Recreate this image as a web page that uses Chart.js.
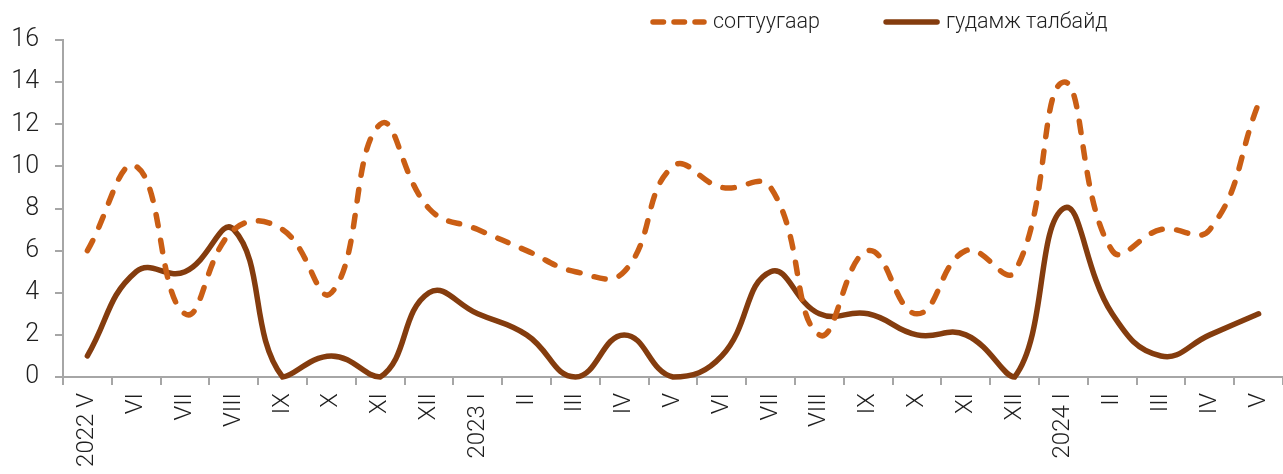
<!DOCTYPE html>
<html>
<head>
<meta charset="utf-8">
<script src="https://cdn.jsdelivr.net/npm/chart.js@4/dist/chart.umd.min.js"></script>
<style>
  html, body { margin: 0; padding: 0; background: #fff; }
  #wrap { width: 1283px; height: 474px; }
</style>
</head>
<body>
<div id="wrap"><canvas id="chart"></canvas></div>
<script>
const months = ['2022 V', 'VI', 'VII', 'VIII', 'IX', 'X', 'XI', 'XII', '2023 I', 'II', 'III', 'IV',
    'V', 'VI', 'VII', 'VIII', 'IX', 'X', 'XI', 'XII', '2024 I', 'II', 'III', 'IV', 'V']
const drunkData = [6, 10, 3, 7, 7, 4, 12, 8, 7, 6, 5, 5, 10, 9, 9, 2, 6, 3, 6, 5, 14, 6, 7, 7, 13]
const streetData = [1, 5, 5, 7, 0, 1, 0, 4, 3, 2, 0, 2, 0, 1, 5, 3, 3, 2, 2, 0, 8, 3, 1, 2, 3]
const yTicks = [0, 2, 4, 6, 8, 10, 12, 14, 16]

const orange = 'rgb(202, 94, 20)'
const brown = 'rgb(132, 60, 14)'
const axisGray = '#a6a6a6'
const textColor = '#1e1e1e'
const fontFamily = 'Roboto'

// legend drawn by hand so the dashed sample keeps its dashes
const dashLegend = {
    id: 'dashLegend',
    afterDraw(chart) {
        const c = chart.ctx
        const sampleW = 57, textGap = 6, itemGap = 63, y = 22
        c.save()
        c.font = '300 21.5px ' + fontFamily
        c.textBaseline = 'middle'
        let x = 650
        chart.data.datasets.forEach(ds => {
            c.strokeStyle = ds.borderColor
            c.lineWidth = ds.borderWidth
            c.lineCap = 'round'
            c.setLineDash(ds.borderDash ? [10.5, 10.5] : [])
            c.beginPath()
            c.moveTo(x + 3, y)
            c.lineTo(x + sampleW - 3, y)
            c.stroke()
            c.setLineDash([])
            c.fillStyle = textColor
            c.fillText(ds.label, x + sampleW + textGap, y + 1)
            x += sampleW + textGap + c.measureText(ds.label).width + itemGap
        })
        c.restore()
    }
}

window.onload = function () {
    let ctx = document.getElementById('chart')
    new Chart(ctx, {
        type: 'line',
        data: {
            labels: months,
            datasets: [{
                label: 'согтуугаар',
                data: drunkData,
                borderColor: orange,
                backgroundColor: orange,
                borderWidth: 5.5,
                borderDash: [11.5, 14.5],
                borderCapStyle: 'round',
                tension: 0.45,
                pointRadius: 0,
                clip: false
            }, {
                label: 'гудамж талбайд',
                data: streetData,
                borderColor: brown,
                backgroundColor: brown,
                borderWidth: 5.5,
                borderCapStyle: 'round',
                tension: 0.45,
                pointRadius: 0,
                clip: false
            }]
        },
        plugins: [dashLegend],
        options: {
            responsive: true,
            maintainAspectRatio: false,
            animation: false,
            // axis runs a little past the right edge of the picture
            layout: { padding: { left: 0, right: -6, top: 40, bottom: 0 } },
            plugins: {
                tooltip: { enabled: false },
                legend: { display: false }
            },
            scales: {
                x: {
                    offset: true,
                    grid: {
                        offset: true,
                        drawOnChartArea: false,
                        drawTicks: true,
                        tickLength: 8,
                        color: axisGray,
                        lineWidth: 2
                    },
                    border: { color: axisGray, width: 2 },
                    ticks: {
                        autoSkip: false,
                        minRotation: 90,
                        maxRotation: 90,
                        color: textColor,
                        padding: 8,
                        font: { family: fontFamily, size: 24, weight: 300 }
                    },
                    afterFit: s => {
                        s.height = 97
                        s.paddingLeft = 0
                        s.paddingRight = 0
                    }
                },
                y: {
                    min: 0,
                    max: 16,
                    afterBuildTicks: s => { s.ticks = yTicks.map(v => ({ value: v })) },
                    grid: {
                        drawOnChartArea: false,
                        drawTicks: true,
                        tickLength: 8,
                        color: axisGray,
                        lineWidth: 2
                    },
                    border: { color: axisGray, width: 2 },
                    ticks: {
                        color: textColor,
                        padding: 16,
                        font: { family: fontFamily, size: 25, weight: 300 }
                    },
                    afterFit: s => { s.width = 63 }
                }
            }
        }
    })
}
</script>
</body>
</html>
